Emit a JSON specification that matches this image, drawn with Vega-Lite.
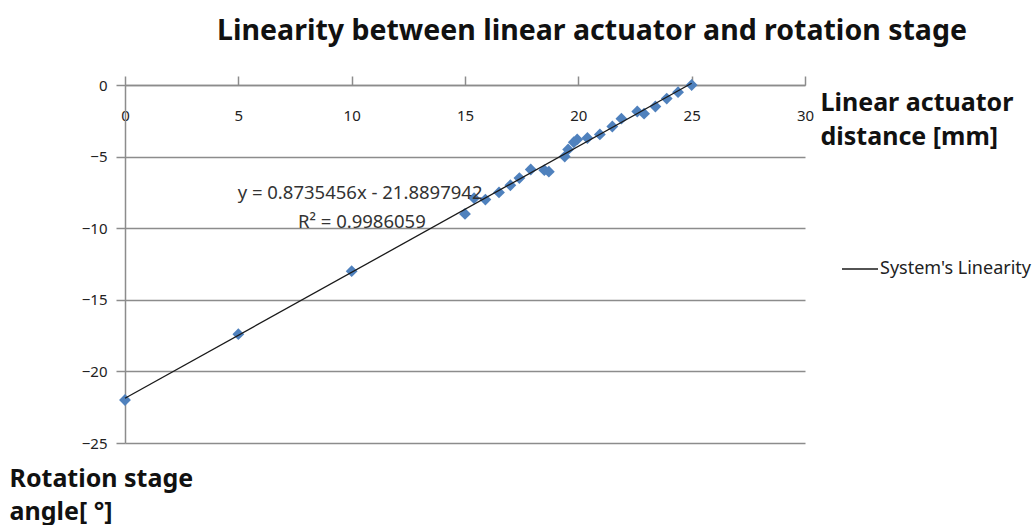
{
  "$schema": "https://vega.github.io/schema/vega-lite/v6.json",
  "autosize": {"type": "none"},
  "width": 680,
  "height": 358,
  "padding": {"left": 125, "top": 85, "right": 231, "bottom": 82},
  "background": "white",
  "config": {
    "view": {"stroke": null},
    "font": "Noto Sans"
  },
  "title": {
    "text": "Linearity between linear actuator and rotation stage",
    "fontSize": 28.5,
    "fontWeight": "bold",
    "color": "#111111",
    "font": "Noto Sans",
    "anchor": "middle",
    "dx": 127,
    "offset": 30
  },
  "datasets": {
    "pts": [
      {"distance": 0, "angle": -22.0},
      {"distance": 5, "angle": -17.4},
      {"distance": 10, "angle": -13.0},
      {"distance": 15.0, "angle": -9.0},
      {"distance": 15.4, "angle": -7.9},
      {"distance": 15.9, "angle": -8.0},
      {"distance": 16.5, "angle": -7.5},
      {"distance": 17.0, "angle": -7.0},
      {"distance": 17.4, "angle": -6.5},
      {"distance": 17.9, "angle": -5.9},
      {"distance": 18.5, "angle": -5.95},
      {"distance": 18.7, "angle": -6.05},
      {"distance": 19.4, "angle": -5.0},
      {"distance": 19.55, "angle": -4.5},
      {"distance": 19.8, "angle": -4.0},
      {"distance": 19.95, "angle": -3.8},
      {"distance": 20.4, "angle": -3.7},
      {"distance": 20.95, "angle": -3.45},
      {"distance": 21.5, "angle": -2.9},
      {"distance": 21.9, "angle": -2.35},
      {"distance": 22.6, "angle": -1.85},
      {"distance": 22.9, "angle": -2.0},
      {"distance": 23.4, "angle": -1.5},
      {"distance": 23.9, "angle": -0.95},
      {"distance": 24.4, "angle": -0.5},
      {"distance": 25.0, "angle": 0.0}
    ],
    "notes": [
      {"distance": 10.37, "angle": -7.54, "label": "y = 0.8735456x - 21.8897942"},
      {"distance": 10.45, "angle": -9.57, "label": "R² = 0.9986059"}
    ]
  },
  "layer": [
    {
      "data": {"name": "pts"},
      "mark": {"type": "point", "shape": "diamond", "filled": true, "color": "#4F81BD", "size": 140, "opacity": 1},
      "encoding": {
        "x": {
          "field": "distance",
          "type": "quantitative",
          "scale": {"domain": [0, 30], "nice": false, "zero": false},
          "axis": {
            "orient": "top",
            "values": [0, 5, 10, 15, 20, 25, 30],
            "grid": false,
            "domainColor": "#8c8c8c",
            "domainWidth": 1.5,
            "tickColor": "#8c8c8c",
            "tickSize": 9,
            "tickWidth": 1.5,
            "labelPadding": -47,
            "labelFontSize": 15,
            "labelColor": "#222222",
            "labelFont": "Noto Sans",
            "labelFlush": false,
            "title": ["Linear actuator", "distance [mm]"],
            "titleFontSize": 25,
            "titleFontWeight": "bold",
            "titleColor": "#111111",
            "titleFont": "Noto Sans",
            "titleAngle": 0,
            "titleAlign": "left",
            "titleBaseline": "top",
            "titleAnchor": "start",
            "titleX": 695,
            "titleY": 5,
            "titleLineHeight": 34
          }
        },
        "y": {
          "field": "angle",
          "type": "quantitative",
          "scale": {"domain": [-25, 0], "nice": false, "zero": false},
          "axis": {
            "values": [0, -5, -10, -15, -20, -25],
            "grid": true,
            "gridColor": "#8c8c8c",
            "gridWidth": 1.5,
            "domainColor": "#8c8c8c",
            "domainWidth": 1.5,
            "tickColor": "#8c8c8c",
            "tickSize": 9,
            "tickWidth": 1.5,
            "labelPadding": 9,
            "labelFontSize": 15,
            "labelColor": "#222222",
            "labelFont": "Noto Sans",
            "labelFlush": false,
            "title": ["Rotation stage", "angle[ °]"],
            "titleFontSize": 25,
            "titleFontWeight": "bold",
            "titleColor": "#111111",
            "titleFont": "Noto Sans",
            "titleAngle": 0,
            "titleAlign": "left",
            "titleBaseline": "top",
            "titleAnchor": "start",
            "titleX": -116,
            "titleY": 381,
            "titleLineHeight": 33
          }
        }
      }
    },
    {
      "data": {"name": "pts"},
      "transform": [
        {"regression": "angle", "on": "distance", "extent": [0, 25]}
      ],
      "mark": {"type": "line", "strokeWidth": 1.3},
      "encoding": {
        "x": {"field": "distance", "type": "quantitative"},
        "y": {"field": "angle", "type": "quantitative"},
        "color": {
          "datum": "System's Linearity",
          "scale": {"range": ["#1a1a1a"]},
          "legend": {
            "title": null,
            "orient": "none",
            "legendX": 716,
            "legendY": 165,
            "symbolType": "stroke",
            "symbolSize": 1300,
            "symbolStrokeWidth": 1.5,
            "labelFontSize": 18,
            "labelColor": "#222222",
            "labelFont": "Noto Sans",
            "labelOffset": 1
          }
        }
      }
    },
    {
      "data": {"name": "notes"},
      "mark": {"type": "text", "fontSize": 18.5, "color": "#333333", "font": "Noto Sans"},
      "encoding": {
        "x": {"field": "distance", "type": "quantitative"},
        "y": {"field": "angle", "type": "quantitative"},
        "text": {"field": "label"}
      }
    }
  ]
}
